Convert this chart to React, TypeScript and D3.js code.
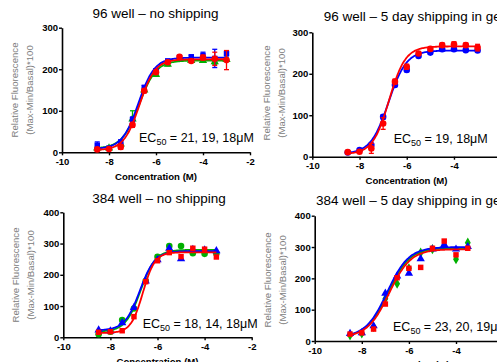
import * as d3 from "d3";
import { useEffect, useRef } from "react";

// log10 molar concentrations
const dose96 = [-8.5, -8, -7.5, -7, -6.5, -6, -5.5, -5, -4.5, -4, -3.5, -3];
const dose384 = [-8.5, -8, -7.5, -7, -6.5, -6, -5.5, -5, -4.5, -4, -3.5];
const xTicks = [-10, -8, -6, -4, -2];
const yTicks300 = [0, 100, 200, 300];
const yTicks400 = [0, 100, 200, 300, 400];

// 96 well – no shipping
const p1Blue = [17, 10, 25, 79, 156, 196, 220, 228, 230, 233, 226, 238];
const p1BlueErr = [8, 3, 4, 6, 5, 5, 4, 3, 3, 8, 22, 6];
const p1Green = [10, 10, 20, 80, 150, 187, 212, 225, 221, 221, 218, 223];
const p1GreenErr = [3, 3, 4, 20, 5, 4, 4, 3, 3, 4, 6, 4];
const p1Red = [7, 8, 13, 66, 148, 193, 217, 230, 220, 228, 225, 222];
const p1RedErr = [3, 3, 6, 6, 5, 4, 4, 3, 3, 6, 16, 23];

// 96 well – 5 day shipping in gel
const p2Blue = [10, 16, 28, 96, 173, 209, 243, 251, 259, 259, 257, 256];
const p2BlueErr = [2, 3, 4, 5, 4, 4, 3, 3, 3, 3, 3, 3];
const p2Red = [11, 12, 20, 80, 181, 217, 249, 260, 269, 271, 269, 263];
const p2RedErr = [3, 3, 12, 14, 6, 6, 4, 4, 5, 6, 5, 8];

// 384 well – no shipping
const p3Blue = [23, 20, 46, 95, 180, 248, 285, 251, 281, 279, 277];
const p3Green = [10, 18, 55, 92, 180, 258, 292, 292, 269, 267, 268];
const p3Red = [16, 18, 21, 66, 178, 245, 271, 258, 285, 282, 257];

// 384 well – 5 day shipping in gel
const p4Blue = [24, 26, 48, 152, 207, 216, 262, 293, 308, 293, 301];
const p4Green = [18, 24, 45, 135, 183, 232, 282, 293, 305, 261, 314];
const p4Red = [22, 26, 38, 118, 202, 232, 235, 296, 319, 275, 296];

// fitted curves: [top, bottom, logEC50, hill]
const p1Fits = { blue: [228, 8, -6.75, 1.25], green: [221, 9, -6.72, 1.2], red: [224, 5, -6.7, 1.3] };
const p2Fits = { blue: [256, 7, -6.77, 1.15], red: [266, 6, -6.75, 1.25] };
const p3Fits = { blue: [276, 22, -6.75, 1.35], green: [280, 18, -6.72, 1.35], red: [272, 14, -6.62, 1.7] };
const p4Fits = { blue: [300, 12, -6.92, 0.95], green: [297, 12, -6.88, 0.95], red: [293, 12, -6.84, 0.95] };

const titles = [
  "96 well – no shipping",
  "96 well – 5 day shipping in gel",
  "384 well – no shipping",
  "384 well – 5 day shipping in gel",
];
const ecLabels = ["= 21, 19, 18μM", "= 19, 18μM", "= 18, 14, 18μM", "= 23, 20, 19μM"];

const BLUE = "#0000ff";
const GREEN = "#00b000";
const RED = "#ff0000";
const FONT = "'Liberation Sans', Arial, sans-serif";

type Series = { vals: number[]; err?: number[]; fit: number[]; color: string; shape: string };

const panels = [
  {
    left: 62, right: 250, bottom: 152.3, top: 27.7, yMax: 300, yTicks: yTicks300, dose: dose96,
    title: titles[0], tx: 155.5, ty: 18, anchor: "middle", cx: 156, cy: 179.5,
    lx: 14, ly: 90, ex: 139, ey: 142, ec: ecLabels[0],
    series: [
      { vals: p1Green, err: p1GreenErr, fit: p1Fits.green, color: GREEN, shape: "triangle" },
      { vals: p1Blue, err: p1BlueErr, fit: p1Fits.blue, color: BLUE, shape: "square" },
      { vals: p1Red, err: p1RedErr, fit: p1Fits.red, color: RED, shape: "circle" },
    ] as Series[],
  },
  {
    left: 312.3, right: 501.2, bottom: 156.7, top: 32.3, yMax: 300, yTicks: yTicks300, dose: dose96,
    title: titles[1], tx: 323.7, ty: 21, anchor: "start", cx: 406.5, cy: 183.5,
    lx: 266, ly: 93, ex: 393.7, ey: 143, ec: ecLabels[1],
    series: [
      { vals: p2Blue, err: p2BlueErr, fit: p2Fits.blue, color: BLUE, shape: "circle" },
      { vals: p2Red, err: p2RedErr, fit: p2Fits.red, color: RED, shape: "circle" },
    ] as Series[],
  },
  {
    left: 63.3, right: 251.7, bottom: 337.3, top: 212.3, yMax: 400, yTicks: yTicks400, dose: dose384,
    title: titles[2], tx: 159, ty: 203, anchor: "middle", cx: 157.5, cy: 364.5,
    lx: 15, ly: 275, ex: 142.7, ey: 328, ec: ecLabels[2],
    series: [
      { vals: p3Green, fit: p3Fits.green, color: GREEN, shape: "circle" },
      { vals: p3Blue, fit: p3Fits.blue, color: BLUE, shape: "triangle" },
      { vals: p3Red, fit: p3Fits.red, color: RED, shape: "square" },
    ] as Series[],
  },
  {
    left: 314.7, right: 503.1, bottom: 341, top: 215.7, yMax: 400, yTicks: yTicks400, dose: dose384,
    title: titles[3], tx: 316, ty: 205, anchor: "start", cx: 408.5, cy: 368,
    lx: 267, ly: 280, ex: 393, ey: 331, ec: ecLabels[3],
    series: [
      { vals: p4Green, fit: p4Fits.green, color: GREEN, shape: "diamond" },
      { vals: p4Blue, fit: p4Fits.blue, color: BLUE, shape: "triangle" },
      { vals: p4Red, fit: p4Fits.red, color: RED, shape: "square" },
    ] as Series[],
  },
];

const symbolFor = (shape: string) => {
  if (shape === "square") return d3.symbol(d3.symbolSquare, 30);
  if (shape === "triangle") return d3.symbol(d3.symbolTriangle, 30);
  if (shape === "diamond") return d3.symbol(d3.symbolDiamond, 30);
  return d3.symbol(d3.symbolCircle, 34);
};

export default function App() {
  const ref = useRef<SVGSVGElement | null>(null);

  useEffect(() => {
    if (!ref.current) return;
    const svg = d3.select(ref.current);
    svg.selectAll("*").remove();

    panels.forEach((p) => {
      const x = d3.scaleLinear().domain([-10, -2]).range([p.left, p.right]);
      const y = d3.scaleLinear().domain([0, p.yMax]).range([p.bottom, p.top]);
      const g = svg.append("g");

      // title
      g.append("text")
        .attr("x", p.tx)
        .attr("y", p.ty)
        .attr("text-anchor", p.anchor)
        .attr("font-family", FONT)
        .attr("font-size", 13.5)
        .text(p.title);

      // axes
      const xAxis = g
        .append("g")
        .attr("transform", `translate(0,${p.bottom})`)
        .call(
          d3.axisBottom(x).tickValues(xTicks).tickSize(3).tickSizeOuter(0).tickPadding(3)
            .tickFormat((d) => String(d))
        );
      const yAxis = g
        .append("g")
        .attr("transform", `translate(${p.left},0)`)
        .call(
          d3.axisLeft(y).tickValues(p.yTicks).tickSize(3).tickSizeOuter(0).tickPadding(1)
            .tickFormat((d) => String(d))
        );
      [xAxis, yAxis].forEach((a) => {
        a.select(".domain").attr("stroke", "#000").attr("stroke-width", 1.6);
        a.selectAll(".tick line").attr("stroke", "#000").attr("stroke-width", 1.4);
        a.selectAll(".tick text")
          .attr("font-family", FONT)
          .attr("font-weight", "bold")
          .attr("font-size", 9.5)
          .attr("fill", "#000");
      });

      // axis titles
      g.append("text")
        .attr("x", p.cx)
        .attr("y", p.cy)
        .attr("text-anchor", "middle")
        .attr("font-family", FONT)
        .attr("font-weight", "bold")
        .attr("font-size", 9.6)
        .text("Concentration (M)");
      const yl = g
        .append("text")
        .attr("transform", `translate(${p.lx},${p.ly}) rotate(-90)`)
        .attr("text-anchor", "middle")
        .attr("font-family", FONT)
        .attr("font-size", 9.6)
        .attr("fill", "#808080");
      yl.append("tspan").attr("x", 0).attr("y", 3.5).text("Relative Fluorescence");
      yl.append("tspan").attr("x", 0).attr("y", 18.5).text("(Max-Min/Basal)*100");

      // EC50 label
      const ec = g
        .append("text")
        .attr("x", p.ex)
        .attr("y", p.ey)
        .attr("font-family", FONT)
        .attr("font-size", 12.5)
        .attr("fill", "#000");
      ec.append("tspan").text("EC");
      ec.append("tspan").attr("font-size", 9).attr("dy", 3).text("50");
      ec.append("tspan").attr("dy", -3).text(" " + p.ec);

      // series
      p.series.forEach((s) => {
        const [top, bottom, logEc, hill] = s.fit;
        const fit = (v: number) => bottom + (top - bottom) / (1 + Math.pow(10, (logEc - v) * hill));
        const xs = d3.range(p.dose[0], p.dose[p.dose.length - 1] + 0.001, 0.04);
        const line = d3.line<number>().x((v) => x(v)).y((v) => y(fit(v))).curve(d3.curveBasis);
        g.append("path")
          .attr("d", line(xs))
          .attr("fill", "none")
          .attr("stroke", s.color)
          .attr("stroke-width", 1.8);

        if (s.err) {
          const err = s.err;
          const eb = g.append("g").attr("stroke", s.color).attr("stroke-width", 1.3);
          s.vals.forEach((v, i) => {
            const px = x(p.dose[i]);
            eb.append("line").attr("x1", px).attr("x2", px).attr("y1", y(v - err[i])).attr("y2", y(v + err[i]));
            eb.append("line").attr("x1", px - 2.5).attr("x2", px + 2.5).attr("y1", y(v - err[i])).attr("y2", y(v - err[i]));
            eb.append("line").attr("x1", px - 2.5).attr("x2", px + 2.5).attr("y1", y(v + err[i])).attr("y2", y(v + err[i]));
          });
        }

        const sym = symbolFor(s.shape);
        g.append("g")
          .selectAll("path")
          .data(s.vals)
          .enter()
          .append("path")
          .attr("d", sym() as string)
          .attr("transform", (v, i) => `translate(${x(p.dose[i])},${y(v)})`)
          .attr("fill", s.color);
      });
    });
  }, []);

  return (
    <svg
      ref={ref}
      width={497}
      height={362}
      style={{ position: "absolute", left: 0, top: 0, background: "#fff" }}
    />
  );
}
